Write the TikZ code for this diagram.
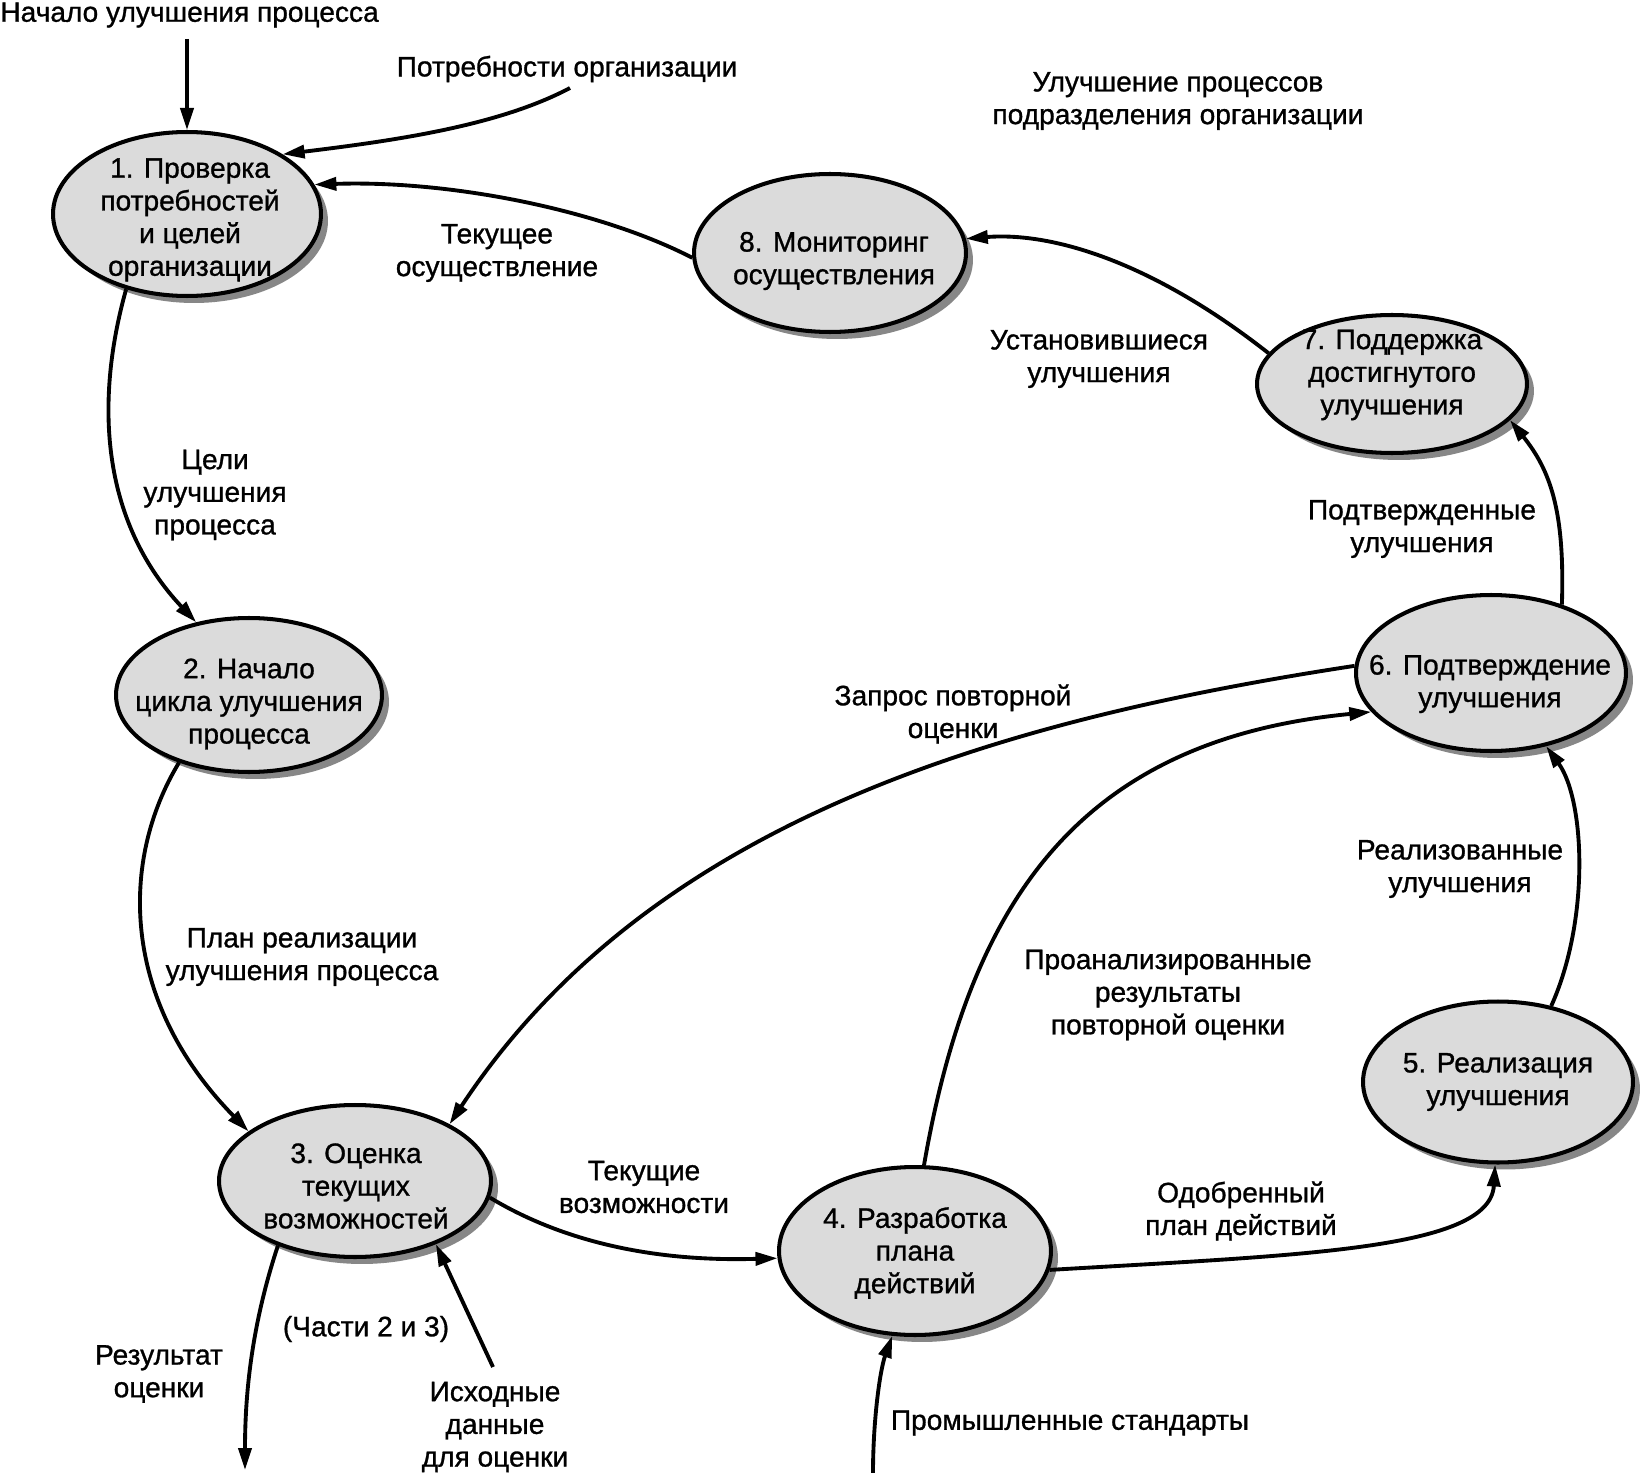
\documentclass[tikz,border=0pt]{standalone}
\usepackage{fontspec}
\setmainfont{Liberation Sans}
\newfontfamily\dgmfont{Liberation Sans}[FakeBold=1.0]
\usetikzlibrary{shapes.geometric, shadows, arrows.meta}
\begin{document}
\begin{tikzpicture}[x=0.02cm, y=-0.02cm,
  font=\dgmfont\fontsize{16}{18.6}\selectfont,
  proc/.style={ellipse, draw=black, line width=2.3pt, fill=black!14,
    inner sep=0pt,
    drop shadow={shadow xshift=0.14cm, shadow yshift=-0.14cm, fill=black!47, opacity=1}},
  lbl/.style={align=center, inner sep=0pt},
  flow/.style={line width=2.2pt, -{Triangle[length=0.44cm, width=0.26cm]}}
]
\useasboundingbox[fill=white] (0,0) rectangle (1641,1473);

% process ellipses
\node[proc, minimum width=5.36cm, minimum height=3.28cm] (n1) at (187,214) {};
\node[proc, minimum width=5.32cm, minimum height=3.08cm] (n2) at (249,695) {};
\node[proc, minimum width=5.44cm, minimum height=3.04cm] (n3) at (355,1181) {};
\node[proc, minimum width=5.44cm, minimum height=3.36cm] (n4) at (915,1251) {};
\node[proc, minimum width=5.40cm, minimum height=3.22cm] (n5) at (1498,1082) {};
\node[proc, minimum width=5.40cm, minimum height=3.12cm] (n6) at (1491,673) {};
\node[proc, minimum width=5.40cm, minimum height=2.76cm] (n7) at (1392,384) {};
\node[proc, minimum width=5.44cm, minimum height=3.16cm] (n8) at (830,253) {};

% ellipse texts
\node[lbl] (n1t) at (190,220) {1. Проверка\\потребностей\\и целей\\организации};
\node[lbl] (n2t) at (249,704) {2. Начало\\цикла улучшения\\процесса};
\node[lbl] (n3t) at (356,1186) {3. Оценка\\текущих\\возможностей};
\node[lbl] (n4t) at (915,1253) {4. Разработка\\плана\\действий};
\node[lbl] (n5t) at (1498,1082) {5. Реализация\\улучшения};
\node[lbl] (n6t) at (1490,684) {6. Подтверждение\\улучшения};
\node[lbl] (n7t) at (1392,375) {7. Поддержка\\достигнутого\\улучшения};
\node[lbl] (n8t) at (834,261) {8. Мониторинг\\осуществления};

% free ends
\coordinate (s1) at (187,39);
\coordinate (s2) at (570,88);
\coordinate (e3) at (245,1470);
\coordinate (s3) at (493,1367);
\coordinate (s4) at (873,1473);

% labels
\node[lbl, anchor=west] (t0) at (0,15) {Начало улучшения процесса};
\node[lbl] (t1) at (567,69) {Потребности организации};
\node[lbl] (t2) at (1178,101) {Улучшение процессов\\подразделения организации};
\node[lbl] (t3) at (497,253) {Текущее\\осуществление};
\node[lbl] (t4) at (1099,359) {Установившиеся\\улучшения};
\node[lbl] (t5) at (215,495) {Цели\\улучшения\\процесса};
\node[lbl] (t6) at (1422,529) {Подтвержденные\\улучшения};
\node[lbl] (t7) at (953,714) {Запрос повторной\\оценки};
\node[lbl] (t8) at (1460,869) {Реализованные\\улучшения};
\node[lbl] (t9) at (302,957) {План реализации\\улучшения процесса};
\node[lbl] (t10) at (1168,995) {Проанализированные\\результаты\\повторной оценки};
\node[lbl] (t11) at (644,1187) {Текущие\\возможности};
\node[lbl] (t12) at (1241,1211) {Одобренный\\план действий};
\node[lbl] (t13) at (366,1329) {(Части 2 и 3)};
\node[lbl] (t14) at (159,1374) {Результат\\оценки};
\node[lbl] (t15) at (495,1427) {Исходные\\данные\\для оценки};
\node[lbl] (t16) at (1070,1423) {Промышленные стандарты};

% connectors
\draw[flow] (s1) -- (n1.north);
\draw[flow] (s2) .. controls (500,125) and (400,140) .. (n1.32);
\draw[flow] (n8.182) .. controls (600,210) and (450,180) .. (n1.13);
\draw[flow] (n7.166) .. controls (1150,260) and (1050,232) .. (n8.6);
\draw[flow] (n1.231) .. controls (95,400) and (100,520) .. (n2.126);
\draw[flow] (n2.224) .. controls (120,860) and (120,1000) .. (n3.155);
\draw[flow] (n6.177) .. controls (1000,720) and (650,820) .. (n3.31);
\draw[flow] (n4.84) .. controls (970,900) and (1080,740) .. (n6.198);
\draw[flow] (n3.353) .. controls (560,1240) and (650,1262) .. (n4.183);
\draw[flow] (n4.352) .. controls (1300,1255) and (1490,1250) .. (n5.268);
\draw[flow] (n5.55) .. controls (1590,920) and (1585,800) .. (n6.307);
\draw[flow] (n6.44) .. controls (1565,510) and (1550,470) .. (n7.343);
\draw[flow] (n3.220) .. controls (250,1330) and (245,1400) .. (e3);
\draw[flow] (s3) -- (n3.322);
\draw[flow] (s4) .. controls (873,1420) and (880,1370) .. (n4.255);
\end{tikzpicture}
\end{document}
